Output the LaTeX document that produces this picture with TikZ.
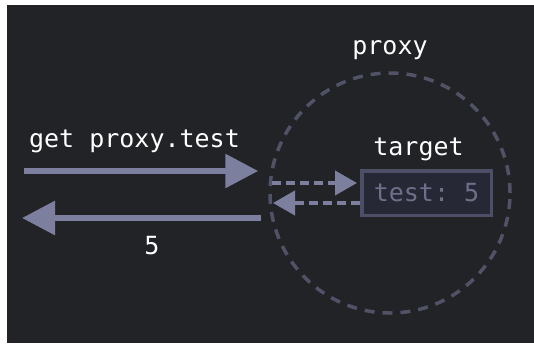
\documentclass[tikz,border=0pt]{standalone}
\usepackage{fontspec}
\setmonofont{DejaVu Sans Mono}
\usepackage{tikz}
\usetikzlibrary{arrows.meta, positioning}
\definecolor{pxbg}{HTML}{222327}
\definecolor{pxarrow}{HTML}{7D7F9E}
\definecolor{pxring}{HTML}{505266}
\definecolor{pxbox}{HTML}{262835}
\definecolor{pxedge}{HTML}{4D4F66}
\definecolor{pxdim}{HTML}{6E7089}

\begin{document}
\begin{tikzpicture}[
    x=1pt, y=-1pt,
    caption/.style={text=white, font=\fontsize{25}{30}\selectfont\ttfamily, inner sep=0pt},
    ring/.style={circle, draw=pxring, line width=3.5pt, dash pattern=on 10pt off 8pt, minimum size=240pt, inner sep=0pt},
    store/.style={rectangle, draw=pxedge, fill=pxbox, line width=3.5pt, minimum width=129.5pt, minimum height=44.5pt, inner sep=0pt, text=pxdim, font=\fontsize{25}{30}\selectfont\ttfamily},
    bigarrow/.style={-{Triangle[length=33pt, width=33pt]}, line width=6pt, draw=pxarrow},
    probe/.style={-{Triangle[length=22pt, width=24pt]}, line width=4pt, dash pattern=on 9pt off 5pt, draw=pxarrow}
]

% Canvas
\fill[white] (0,0) rectangle (534,343);
\fill[pxbg] (7,5) rectangle (534,343);
\useasboundingbox (0,0) rectangle (534,343);

% Proxy ring and the object inside it
\node[ring] (ring) at (390,193) {};
\node[caption, above=11pt of ring] (ringname) {proxy};
\node[store] (target) at (426.5,193) {test: 5};
\node[caption, above=8pt of target, xshift=-8pt] (targetname) {target};

% Outside call and the value coming back
\coordinate (callstart) at (24,171);
\coordinate (replyend) at (22,218);
\draw[bigarrow, shorten >=10pt] (callstart) -- (ring.west |- callstart);
\draw[bigarrow, shorten <=7pt] (ring.west |- replyend) -- (replyend);
\node[caption, anchor=base] (call) at (134.5,147) {get proxy.test};
\node[caption, anchor=base] (reply) at (152,254) {5};

% Forwarding to the target and back
\coordinate (askin) at (272,183);
\coordinate (askout) at (273,203);
\draw[probe, shorten >=3pt] (askin) -- (target.west |- askin);
\draw[probe] (target.west |- askout) -- (askout);

\end{tikzpicture}
\end{document}
